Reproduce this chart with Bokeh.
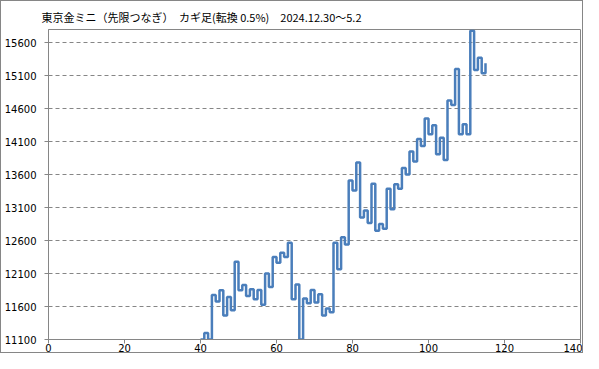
from bokeh.plotting import figure
from bokeh.models import FixedTicker, Range1d, BasicTickFormatter
from bokeh.embed import file_html
from bokeh.resources import INLINE

title_text = "東京金ミニ（先限つなぎ）　カギ足(転換 0.5%)　2024.12.30～5.2"

# kagi line: index of each turn and its price
x_index = list(range(40, 116))
prices = [
    11100, 11200, 11100, 11775, 11675, 11845, 11465, 11745, 11545, 12280,
    11845, 11925, 11760, 11860, 11710, 11850, 11625, 12100, 11895, 12350,
    12265, 12415, 12350, 12565, 11710, 11935, 11100, 11720, 11650, 11850,
    11660, 11785, 11465, 11570, 11515, 12565, 12165, 12650, 12540, 13510,
    13360, 13785, 12950, 13055, 12865, 13460, 12750, 12850, 12780, 13385,
    13075, 13455, 13385, 13700, 13600, 13950, 13800, 14140, 14035, 14450,
    14210, 14350, 13910, 14160, 13820, 14725, 14655, 15200, 14210, 14365,
    14210, 15780, 15185, 15370, 15135, 15290,
]

x_ticks = [0, 20, 40, 60, 80, 100, 120, 140]
y_ticks = [11100, 11600, 12100, 12600, 13100, 13600, 14100, 14600, 15100, 15600]

grey = "#868686"

p = figure(
    width=583, height=353,
    output_backend="svg", toolbar_location=None,
    x_range=Range1d(0, 140), y_range=Range1d(11100, 15800),
    min_border_left=0, min_border_right=4, min_border_top=28, min_border_bottom=0,
    background_fill_color="white", border_fill_color="white",
)
p.styles = {"border": "1px solid " + grey}

p.step(x_index, prices, mode="after", line_color="#4A7EBB", line_width=2.5)

p.title.text = title_text
p.title.text_font = "Noto Sans CJK JP"
p.title.text_font_size = "11px"
p.title.text_font_style = "normal"
p.title.text_color = "#000000"
p.title.align = "left"
p.title.offset = -7
p.title.standoff = 9

p.xaxis.ticker = FixedTicker(ticks=x_ticks)
p.yaxis.ticker = FixedTicker(ticks=y_ticks)
p.yaxis.formatter = BasicTickFormatter(use_scientific=False)

for ax in (p.xaxis[0], p.yaxis[0]):
    ax.axis_line_color = grey
    ax.major_tick_line_color = grey
    ax.minor_tick_line_color = None
    ax.major_tick_in = 0
    ax.major_tick_out = 4
    ax.major_label_text_font = "DejaVu Sans"
    ax.major_label_text_font_size = "10px"
    ax.major_label_text_color = "#000000"
p.yaxis.major_label_standoff = 8
p.xaxis.major_label_standoff = 0

p.xgrid.visible = False
p.ygrid.grid_line_color = grey
p.ygrid.grid_line_dash = "4 3"
p.ygrid.grid_line_width = 1

p.outline_line_color = grey
p.outline_line_alpha = 1.0

open("out.html", "w").write(file_html(p, INLINE))
